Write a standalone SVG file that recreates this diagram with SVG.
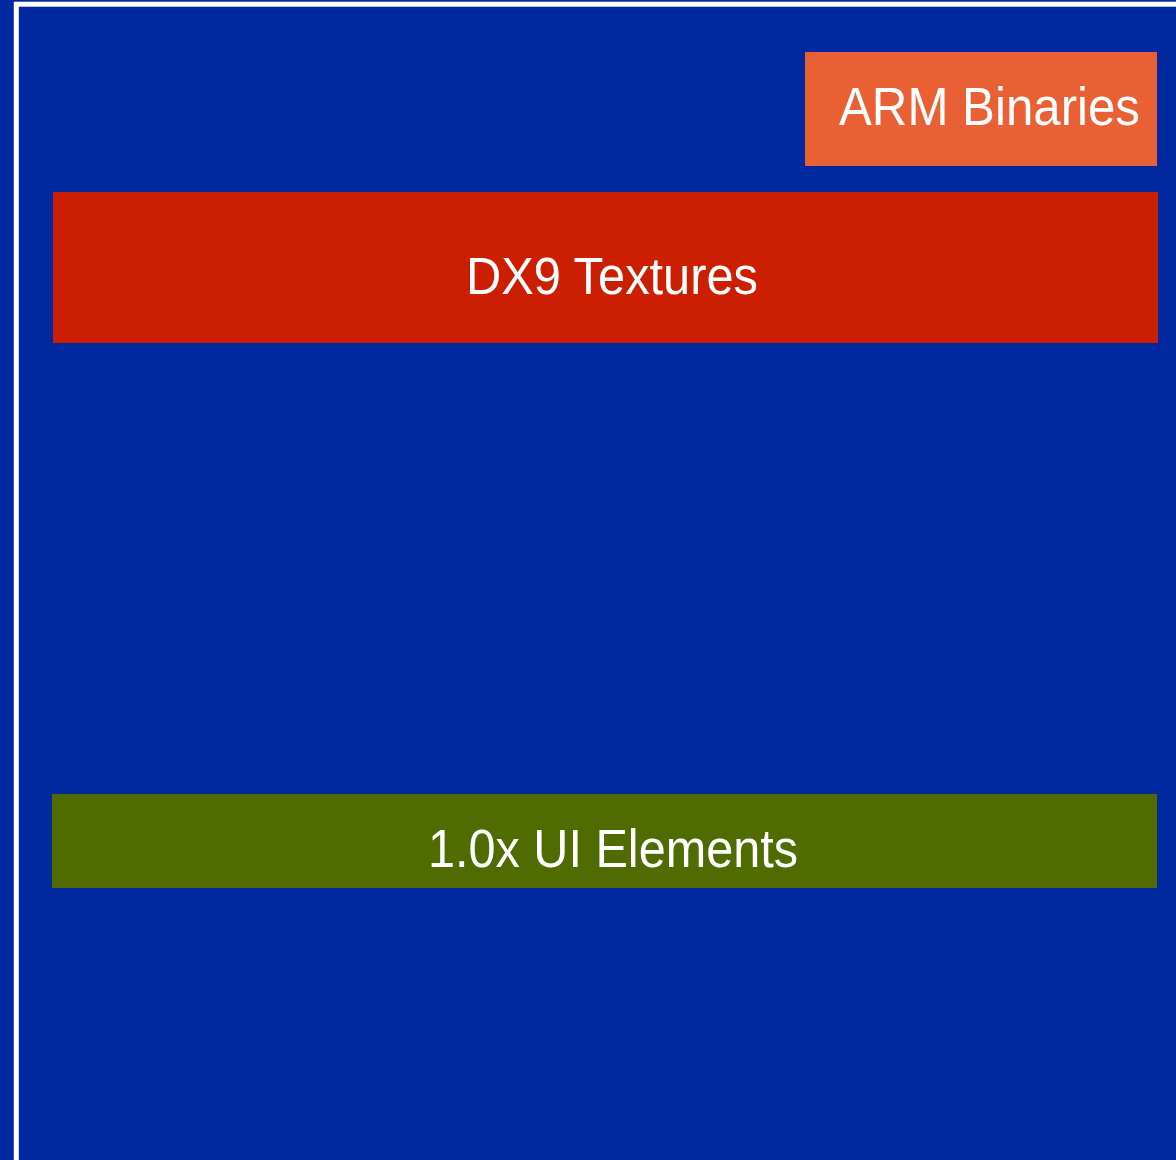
<svg xmlns="http://www.w3.org/2000/svg" width="1176" height="1160" viewBox="0 0 1176 1160">
  <style>
    .lbl { font-family: "Liberation Sans", Arial, Helvetica, sans-serif; fill: #ffffff; }
  </style>
  <rect x="0" y="0" width="1176" height="1160" fill="#0029A0"/>
  <rect x="16.3" y="4.2" width="1200" height="1200" fill="none" stroke="#ffffff" stroke-width="5"/>
  <g id="arm-binaries">
    <rect x="805" y="52" width="352" height="114" fill="#EA6035"/>
    <text class="lbl" x="839" y="125" font-size="53" textLength="301" lengthAdjust="spacingAndGlyphs">ARM Binaries</text>
  </g>
  <g id="dx9-textures">
    <rect x="53" y="192" width="1105" height="151" fill="#CC1E00"/>
    <text class="lbl" x="466" y="294" font-size="51" textLength="292" lengthAdjust="spacingAndGlyphs">DX9 Textures</text>
  </g>
  <g id="ui-elements">
    <rect x="52" y="794" width="1105" height="94" fill="#506B00"/>
    <text class="lbl" x="428" y="867" font-size="53" textLength="370" lengthAdjust="spacingAndGlyphs">1.0x UI Elements</text>
  </g>
  <g id="connectors"/>
</svg>
